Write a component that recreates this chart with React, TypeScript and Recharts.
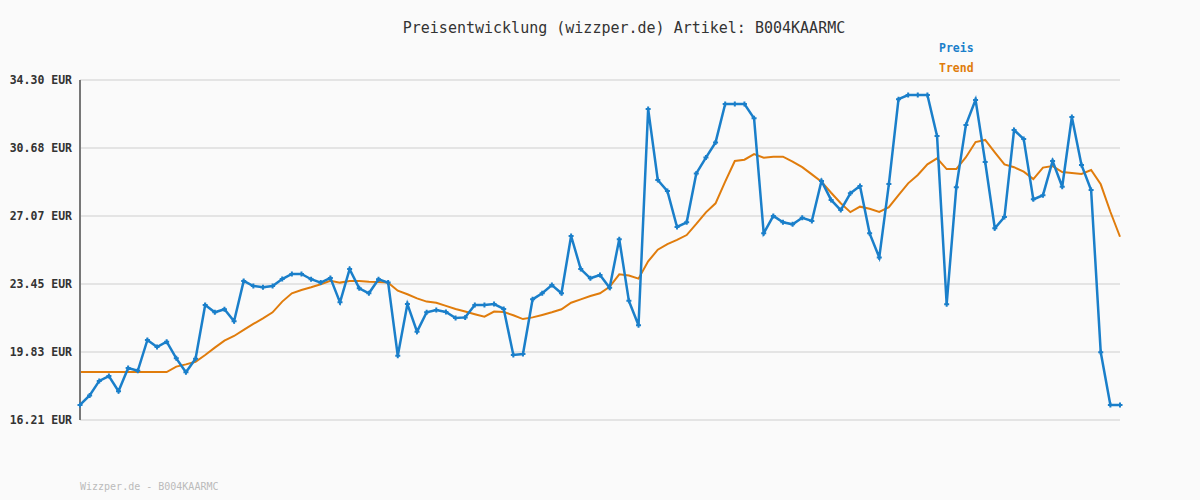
import { CartesianGrid, Line, LineChart, XAxis, YAxis } from 'recharts';

const FONT = '"DejaVu Sans Mono", "Liberation Mono", monospace';

// Preis je Messpunkt (EUR)
const preis = [
    17.01, 17.52, 18.29, 18.55, 17.74, 18.98, 18.83, 20.47, 20.09, 20.38,
    19.49, 18.75, 19.47, 22.33, 21.94, 22.1, 21.46, 23.61, 23.34, 23.27,
    23.34, 23.71, 23.98, 23.98, 23.7, 23.52, 23.77, 22.47, 24.24, 23.22,
    22.95, 23.7, 23.52, 19.63, 22.38, 20.91, 21.94, 22.06, 21.96, 21.64,
    21.67, 22.33, 22.33, 22.38, 22.12, 19.67, 19.72, 22.63, 22.95, 23.39,
    22.95, 26.0, 24.24, 23.75, 23.92, 23.25, 25.83, 22.55, 21.25, 32.76,
    28.98, 28.39, 26.48, 26.73, 29.33, 30.17, 30.98, 33.02, 33.02, 33.02,
    32.26, 26.14, 27.07, 26.73, 26.62, 26.97, 26.8, 28.93, 27.92, 27.38,
    28.27, 28.66, 26.14, 24.86, 28.76, 33.28, 33.5, 33.5, 33.5, 31.32,
    22.37, 28.59, 31.91, 33.24, 29.94, 26.41, 27.01, 31.64, 31.16, 27.95,
    28.17, 29.99, 28.62, 32.33, 29.78, 28.45, 19.81, 17.01, 17.01,
];

// gleitender Trend
const trend = [
    18.76, 18.76, 18.76, 18.76, 18.76, 18.76, 18.76, 18.76, 18.76, 18.76,
    19.05, 19.17, 19.31, 19.67, 20.06, 20.43, 20.68, 21.0, 21.32, 21.62,
    21.94, 22.51, 22.95, 23.13, 23.27, 23.43, 23.62, 23.52, 23.61, 23.61,
    23.57, 23.55, 23.52, 23.09, 22.9, 22.68, 22.51, 22.45, 22.28, 22.12,
    21.98, 21.84, 21.71, 21.98, 21.96, 21.78, 21.58, 21.67, 21.8, 21.94,
    22.1, 22.45, 22.63, 22.81, 22.95, 23.3, 23.96, 23.9, 23.73, 24.65,
    25.27, 25.57, 25.79, 26.05, 26.64, 27.26, 27.74, 28.89, 29.99, 30.06,
    30.36, 30.17, 30.22, 30.22, 29.96, 29.66, 29.28, 28.89, 28.3, 27.74,
    27.27, 27.56, 27.45, 27.28, 27.53, 28.18, 28.8, 29.25, 29.81, 30.13,
    29.56, 29.56, 30.19, 31.0, 31.11, 30.45, 29.81, 29.66, 29.42, 29.03,
    29.64, 29.72, 29.4, 29.35, 29.3, 29.51, 28.75, 27.29, 25.96,
];

const yTicks = [16.21, 19.83, 23.45, 27.07, 30.68, 34.3];

const rows = preis.map((p, i) => ({ i: i + 1, preis: p, trend: trend[i] }));

const BLUE = '#1a7fca';
const ORANGE = '#e07c0c';

/** kleines Kreuz als Messpunkt */
function PlusDot(props: { cx?: number; cy?: number; index?: number }) {
    const { cx, cy, index } = props;
    if (cx == null || cy == null) return null;
    return (
        <path
            key={`d${index}`}
            d={`M${cx - 2.5},${cy}H${cx + 2.5}M${cx},${cy - 2.5}V${cy + 2.5}`}
            stroke={BLUE}
            strokeWidth={2}
        />
    );
}

export default function App() {
    return (
        <div
            style={{
                position: 'absolute',
                left: 0,
                top: 0,
                width: 1200,
                height: 500,
                background: '#fafafa',
                fontFamily: FONT,
            }}
        >
            <div
                style={{
                    position: 'absolute',
                    left: 0,
                    width: 1248,
                    top: 19,
                    textAlign: 'center',
                    fontSize: 15,
                    color: '#333',
                }}
            >
                Preisentwicklung (wizzper.de) Artikel: B004KAARMC
            </div>
            <div
                style={{
                    position: 'absolute',
                    left: 939,
                    top: 41,
                    fontSize: 11.5,
                    fontWeight: 'bold',
                    color: BLUE,
                }}
            >
                Preis
            </div>
            <div
                style={{
                    position: 'absolute',
                    left: 939,
                    top: 61,
                    fontSize: 11.5,
                    fontWeight: 'bold',
                    color: ORANGE,
                }}
            >
                Trend
            </div>
            <div
                style={{
                    position: 'absolute',
                    left: 80,
                    top: 481,
                    fontSize: 10,
                    color: '#bbb',
                }}
            >
                Wizzper.de - B004KAARMC
            </div>
            <LineChart
                width={1200}
                height={500}
                data={rows}
                margin={{ top: 80, right: 80, bottom: 80, left: 0 }}
                style={{ position: 'absolute', left: 0, top: 0 }}
            >
                <CartesianGrid vertical={false} stroke="#e4e4e4" strokeWidth={2} />
                <XAxis
                    dataKey="i"
                    type="number"
                    domain={[1, 109]}
                    tick={false}
                    tickLine={false}
                    height={0}
                    axisLine={{ stroke: '#777', strokeWidth: 3 }}
                />
                <YAxis
                    width={80}
                    domain={[16.21, 34.3]}
                    ticks={yTicks}
                    interval={0}
                    tickLine={false}
                    axisLine={{ stroke: '#777', strokeWidth: 2 }}
                    tickMargin={2}
                    tickFormatter={(v: number) => `${v.toFixed(2)} EUR`}
                    tick={{ fontSize: 11.5, fontWeight: 'bold', fill: '#333', fontFamily: FONT }}
                />
                <Line
                    dataKey="trend"
                    stroke={ORANGE}
                    strokeWidth={2}
                    dot={false}
                    type="linear"
                    isAnimationActive={false}
                />
                <Line
                    dataKey="preis"
                    stroke={BLUE}
                    strokeWidth={2.5}
                    dot={PlusDot}
                    type="linear"
                    isAnimationActive={false}
                />
            </LineChart>
        </div>
    );
}
